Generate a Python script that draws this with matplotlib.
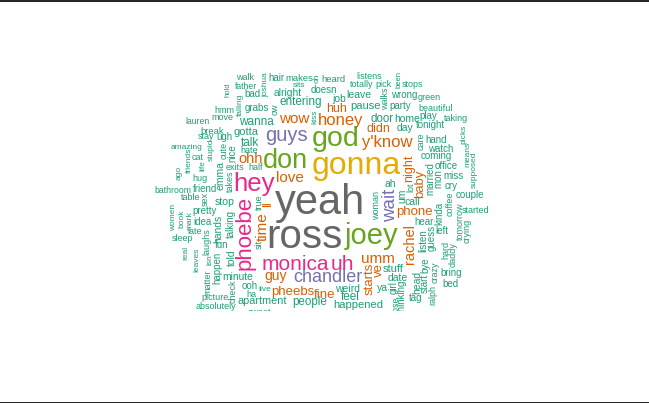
import matplotlib
matplotlib.use("Agg")
import matplotlib.pyplot as plt
from matplotlib.patches import Rectangle

# ---- data: words and their (estimated) frequencies ----
words = [
    "yeah", "ross", "gonna", "joey", "god", "don", "hey", "phoebe", "monica", "uh",
    "guys", "wait", "chandler",
    "honey", "y'know", "wow", "love", "time", "umm", "ohh", "rachel", "guy", "ll",
    "phone", "baby", "pheebs", "fine", "starts", "ve", "night", "huh", "didn",
    "walk", "joshua", "hair", "makes", "oh", "heard", "listens", "been", "totally", "pick",
    "stops", "hold", "father", "bad", "alright", "sits", "doesn", "job", "leave", "walks",
    "wrong", "green", "falling", "hmm", "grabs", "ow", "entering", "pause", "party",
    "beautiful", "lauren", "move", "wanna", "kiss", "door", "home", "play", "tonight",
    "taking", "day", "break", "gotta", "stay", "ugh", "talk", "care", "hand", "picks",
    "amazing", "stupid", "cute", "nice", "hate", "watch", "means", "coming", "friends",
    "cat", "life", "exits", "half", "office", "supposed", "emma", "takes", "ago", "hug",
    "married", "mon", "miss", "ah", "lot", "um", "cry", "bathroom", "friend", "couple",
    "table", "sex", "stop", "true", "call", "coffee", "woman", "kinda", "started",
    "pretty", "women", "book", "mark", "hear", "idea", "talking", "hands", "tomorrow",
    "left", "crying", "late", "listen", "guess", "sleep", "laughs", "fun", "sit", "hard",
    "daddy", "real", "leaves", "isn", "told", "happen", "bye", "stuff", "crazy", "bring",
    "minute", "matter", "date", "head", "start", "bed", "check", "ooh", "live", "weird",
    "ya", "girl", "ha", "feel", "ralph", "thinking", "picture", "tag", "apartment",
    "people", "happened", "lose", "absolutely", "sweet",
]
freqs = [
    300, 290, 230, 210, 205, 195, 185, 160, 150, 150,
    145, 135, 130,
    120, 120, 110, 110, 110, 110, 105, 105, 100, 90,
    95, 95, 95, 95, 95, 95, 90, 90, 90,
    65, 60, 70, 68, 60, 68, 65, 55, 65, 65,
    65, 55, 62, 70, 74, 60, 70, 75, 75, 65,
    70, 65, 60, 65, 70, 65, 85, 80, 70,
    65, 62, 65, 85, 60, 83, 75, 70, 70,
    65, 75, 68, 80, 65, 70, 85, 65, 70, 60,
    60, 60, 65, 70, 65, 70, 60, 70, 60,
    65, 60, 65, 65, 70, 60, 75, 65, 60, 65,
    70, 70, 70, 75, 65, 75, 70, 63, 70, 70,
    65, 65, 76, 65, 75, 65, 65, 70, 65,
    70, 60, 60, 60, 70, 70, 70, 75, 65,
    70, 65, 65, 70, 70, 65, 65, 70, 65, 65,
    65, 60, 60, 60, 75, 70, 70, 80, 65, 70,
    74, 65, 75, 75, 70, 70, 65, 70, 60, 75,
    75, 70, 65, 85, 65, 70, 65, 70, 78,
    84, 80, 65, 65, 65,
]

# ---- layout of the cloud (pixel position of baseline centre, rotation) ----
layout = {
    "yeah": (320, 214, 0), "ross": (304, 248, 0), "gonna": (356, 174, 0),
    "joey": (372, 244, 0), "god": (336, 146, 0), "don": (285, 168, 0),
    "hey": (254, 191, 0), "phoebe": (251, 233, 90), "monica": (295, 270, 0),
    "uh": (342, 270, 0), "guys": (286, 141, 0), "wait": (395, 205, 90),
    "chandler": (328, 282.5, 0),
    "honey": (341, 124.5, 0), "y'know": (387, 147, 0), "wow": (294, 123, 0),
    "love": (290, 182, 0), "time": (267, 227, 90), "umm": (378, 263, 0),
    "ohh": (251, 163, 0), "rachel": (414, 244, 90), "guy": (276, 280, 0),
    "ll": (271, 204, 90), "phone": (414, 215, 0), "baby": (423, 184, 90),
    "pheebs": (293, 295, 0), "fine": (325, 298, 0), "starts": (373, 279, 90),
    "ve": (382, 270, 90), "night": (412, 168, 90), "huh": (337, 112, 0),
    "didn": (378, 132, 0),
    "walk": (245, 80, 0), "joshua": (267, 85, 90), "hair": (276, 81, 0),
    "makes": (299, 81, 0), "oh": (319, 78, 90), "heard": (333, 82, 0),
    "listens": (369, 79, 0), "been": (401, 80, 90), "totally": (362, 87, 0),
    "pick": (383, 87, 0), "stops": (412, 87, 0), "hold": (230, 90, 90),
    "father": (246, 89, 0), "bad": (252, 97, 0), "alright": (288, 96, 0),
    "sits": (299, 87, 0), "doesn": (324, 93, 0), "job": (339, 102, 0),
    "leave": (359, 98, 0), "walks": (388, 99, 90), "wrong": (404, 98, 0),
    "green": (429, 100, 0), "falling": (242, 105, 90), "hmm": (224, 113, 0),
    "grabs": (257, 111, 0), "ow": (278, 109, 90), "entering": (301, 105, 0),
    "pause": (366, 109, 0), "party": (400, 109, 0), "beautiful": (436, 111, 0),
    "lauren": (197, 124, 0), "move": (222, 120, 0), "wanna": (256, 125, 0),
    "kiss": (316, 117, 90), "door": (382, 122, 0), "home": (407, 122, 0),
    "play": (428, 119, 0), "tonight": (430, 127.5, 0), "taking": (456, 121, 0),
    "day": (405, 131, 0), "break": (212, 134, 0), "gotta": (246, 135, 0),
    "stay": (206, 139, 0), "ugh": (224, 140, 0), "talk": (250, 146, 0),
    "care": (424, 141, 90), "hand": (436, 143, 0), "picks": (465, 134, 90),
    "amazing": (187, 149, 0), "stupid": (213, 150, 90), "cute": (227, 150, 90),
    "nice": (235, 153, 90), "hate": (249, 153, 0), "watch": (441, 152, 0),
    "means": (469, 154, 90), "coming": (436, 159, 0), "friends": (191, 160, 90),
    "cat": (198, 160, 0), "life": (204, 166, 90), "exits": (235, 170, 0),
    "half": (256, 170, 0), "office": (446, 169, 0), "supposed": (476, 170, 90),
    "emma": (224, 176, 90), "takes": (233, 181, 90), "ago": (181, 173, 90),
    "hug": (200, 181, 0), "married": (433, 179, 90), "mon": (441, 179, 90),
    "miss": (454, 179, 0), "ah": (390, 187, 0), "lot": (413, 187, 90),
    "um": (405, 196, 90), "cry": (451, 189, 0), "bathroom": (173, 193, 0),
    "friend": (205, 192, 0), "couple": (470, 198, 0), "table": (191, 200, 0),
    "sex": (208, 199, 90), "stop": (225, 205, 0), "true": (262, 202, 90),
    "call": (412, 205, 0), "coffee": (453, 204, 90), "woman": (379, 206, 90),
    "kinda": (442, 213, 90), "started": (476, 213, 0), "pretty": (205, 214, 0),
    "women": (175, 217, 90), "book": (183, 219, 90), "mark": (191, 221, 90),
    "hear": (424, 225, 0), "idea": (203, 225, 0), "talking": (234, 224, 90),
    "hands": (221, 229, 90), "tomorrow": (463, 221, 90), "left": (442, 234, 0),
    "crying": (470, 231, 90), "late": (195, 234, 0), "listen": (426, 241, 90),
    "guess": (435, 238, 90), "sleep": (182, 241, 0), "laughs": (209, 242, 90),
    "fun": (222, 248, 0), "sit": (262, 244, 90), "hard": (448, 250, 90),
    "daddy": (456, 255, 90), "real": (187, 253, 90), "leaves": (198, 260, 90),
    "isn": (212, 260, 90), "told": (235, 258, 90), "happen": (220, 268, 90),
    "bye": (428, 265, 90), "stuff": (393, 272, 0), "crazy": (438, 272, 90),
    "bring": (451, 276, 0), "minute": (238, 280, 0), "matter": (210, 282, 90),
    "date": (398, 281, 0), "head": (420, 282, 90), "start": (428, 283, 90),
    "bed": (450, 287, 0), "check": (236, 291, 90), "ooh": (250, 289, 0),
    "live": (265, 291, 0), "weird": (348, 291.5, 0), "ya": (382, 291, 0),
    "girl": (397, 288, 90), "ha": (251, 297, 0), "feel": (350, 300, 0),
    "ralph": (435, 295, 90), "thinking": (405, 296, 90), "picture": (215, 300, 0),
    "tag": (416, 301, 0), "apartment": (262, 304, 0), "people": (310, 305, 0),
    "happened": (358, 308.5, 0), "lose": (398, 305, 90), "absolutely": (216, 309, 0),
    "sweet": (260, 315, 0),
}

# Dark2 palette, assigned by frequency band (as R wordcloud does)
bands = [(250, "#666666"), (220, "#E6AB02"), (195, "#66A61E"), (150, "#E7298A"),
         (130, "#7570B3"), (88, "#D95F02"), (0, "#1B9E77")]


def colour_for(f):
    for lo, c in bands:
        if f >= lo:
            return c
    return bands[-1][1]


W, H = 649, 403
CLIP_Y = 311
fig = plt.figure(figsize=(W / 100, H / 100), dpi=100)
fig.patch.set_facecolor("white")
ax = fig.add_axes([0, (H - CLIP_Y) / H, 1, CLIP_Y / H])
ax.set_xlim(0, W)
ax.set_ylim(CLIP_Y, 0)
ax.axis("off")

for w, f in zip(words, freqs):
    x, y, rot = layout[w]
    ax.text(x, y, w, fontsize=f / 10.0, color=colour_for(f), rotation=rot,
            rotation_mode="anchor", ha="center", va="baseline",
            family=["Liberation Sans", "DejaVu Sans"], clip_on=True)

# thin dark frame lines at top and bottom of the image
fig.add_artist(Rectangle((0, 1 - 1.5 / H), 1, 1.5 / H, transform=fig.transFigure,
                         color="#262626", lw=0))
fig.add_artist(Rectangle((0, 0), 1, 1.5 / H, transform=fig.transFigure,
                         color="#262626", lw=0))

fig.savefig("out.png", dpi=100, facecolor="white")
